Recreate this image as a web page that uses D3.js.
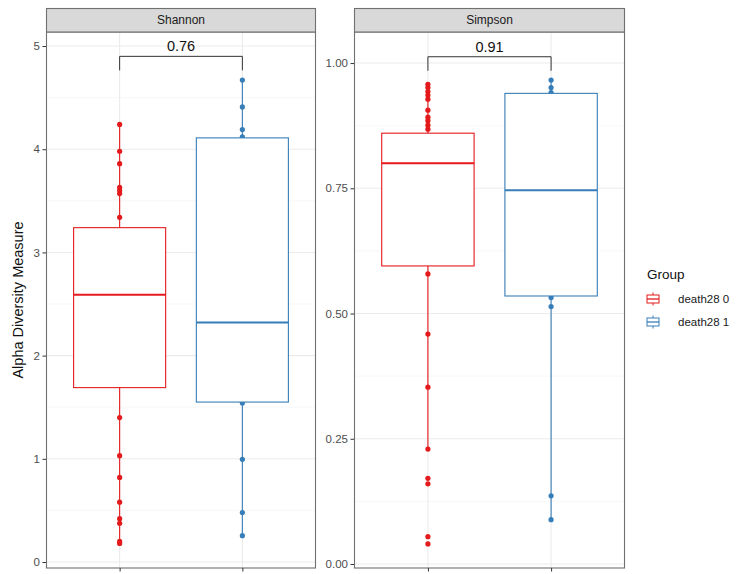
<!DOCTYPE html>
<html>
<head>
<meta charset="utf-8">
<script src="https://cdn.jsdelivr.net/npm/d3@7"></script>
<style>
  html, body { margin: 0; padding: 0; background: #ffffff; }
  svg { display: block; font-family: "Liberation Sans", Arial, sans-serif; }
</style>
</head>
<body>
<svg id="chart" width="737" height="574"></svg>
<script>
// Groups and facets
const groups = ["death28 0", "death28 1"];
const groupColors = ["#E41A1C", "#377EB8"];
const measures = ["Shannon", "Simpson"];

// Observed values per group (Shannon index)
const shannonGroup0 = [4.24, 3.98, 3.86, 3.63, 3.60, 3.57, 3.34, 1.40, 1.03, 0.82, 0.58, 0.42, 0.375, 0.20, 0.18];
const shannonGroup1 = [4.67, 4.41, 4.19, 4.12, 1.54, 0.995, 0.48, 0.255];
// Box statistics (Shannon)
const shannonQ1 = [1.69, 1.55];
const shannonMedian = [2.59, 2.32];
const shannonQ3 = [3.24, 4.11];

// Observed values per group (Simpson index)
const simpsonGroup0 = [0.9575, 0.951, 0.943, 0.936, 0.928, 0.906, 0.892, 0.885, 0.876, 0.868,
                       0.579, 0.459, 0.353, 0.2295, 0.171, 0.160, 0.0545, 0.040];
const simpsonGroup1 = [0.966, 0.951, 0.941, 0.532, 0.514, 0.136, 0.0885];
// Box statistics (Simpson)
const simpsonQ1 = [0.595, 0.535];
const simpsonMedian = [0.800, 0.746];
const simpsonQ3 = [0.860, 0.9395];

// Tick values
const shannonTicks = [0, 1, 2, 3, 4, 5];
const simpsonTicks = [0, 0.25, 0.50, 0.75, 1.00];

// Wilcoxon comparison labels and bracket heights
const pLabels = ["0.76", "0.91"];
const bracketLevels = [4.90, 1.0126];

const facets = [
  { name: measures[0], values: [shannonGroup0, shannonGroup1], q1: shannonQ1, med: shannonMedian, q3: shannonQ3,
    ticks: shannonTicks, fmt: d3.format("d"), domain: [-0.058, 5.136], x0: 46, x1: 316, p: pLabels[0], br: bracketLevels[0] },
  { name: measures[1], values: [simpsonGroup0, simpsonGroup1], q1: simpsonQ1, med: simpsonMedian, q3: simpsonQ3,
    ticks: simpsonTicks, fmt: d3.format(".2f"), domain: [-0.008, 1.062], x0: 354, x1: 625, p: pLabels[1], br: bracketLevels[1] }
];

const svg = d3.select("#chart");
const panelTop = 32, panelBottom = 568, stripTop = 8;
const borderColor = "#707070";
const gridColor = "#ebebeb";
const tickColor = "#4d4d4d";

facets.forEach(f => {
  const g = svg.append("g");
  const x = d3.scaleLinear().domain([0.4, 2.6]).range([f.x0, f.x1]);
  const y = d3.scaleLinear().domain(f.domain).range([panelBottom, panelTop]);
  const cx = i => x(i + 1);

  // panel background
  g.append("rect").attr("x", f.x0).attr("y", panelTop)
    .attr("width", f.x1 - f.x0).attr("height", panelBottom - panelTop).attr("fill", "#fff");

  // minor grid
  const step = f.ticks[1] - f.ticks[0];
  const minor = f.ticks.map(t => t + step / 2).concat([f.ticks[0] - step / 2])
    .filter(v => v > f.domain[0] && v < f.domain[1]);
  g.selectAll(".minor").data(minor).join("line")
    .attr("x1", f.x0).attr("x2", f.x1)
    .attr("y1", d => y(d)).attr("y2", d => y(d))
    .attr("stroke", "#f2f2f2").attr("stroke-width", 0.6);
  // major grid
  g.selectAll(".major").data(f.ticks).join("line")
    .attr("x1", f.x0).attr("x2", f.x1)
    .attr("y1", d => y(d)).attr("y2", d => y(d))
    .attr("stroke", gridColor).attr("stroke-width", 1.1);
  g.selectAll(".vmajor").data(groups).join("line")
    .attr("x1", (d, i) => cx(i)).attr("x2", (d, i) => cx(i))
    .attr("y1", panelTop).attr("y2", panelBottom)
    .attr("stroke", gridColor).attr("stroke-width", 1.1);

  // points (drawn beneath the boxes)
  groups.forEach((grp, i) => {
    g.append("g").selectAll("circle").data(f.values[i]).join("circle")
      .attr("cx", cx(i)).attr("cy", d => y(d)).attr("r", 2.6)
      .attr("fill", groupColors[i]);
  });

  // boxplots
  groups.forEach((grp, i) => {
    const vals = f.values[i];
    const iqr = f.q3[i] - f.q1[i];
    const hiFence = f.q3[i] + 1.5 * iqr, loFence = f.q1[i] - 1.5 * iqr;
    const hi = d3.max(vals.filter(v => v <= hiFence));
    const lo = d3.min(vals.filter(v => v >= loFence));
    const col = groupColors[i];
    const halfW = (x(1.375) - x(1));
    const bg = g.append("g");
    bg.append("line").attr("x1", cx(i)).attr("x2", cx(i))
      .attr("y1", y(f.q3[i])).attr("y2", y(hi)).attr("stroke", col).attr("stroke-width", 1.1);
    bg.append("line").attr("x1", cx(i)).attr("x2", cx(i))
      .attr("y1", y(f.q1[i])).attr("y2", y(lo)).attr("stroke", col).attr("stroke-width", 1.1);
    bg.append("rect").attr("x", cx(i) - halfW).attr("y", y(f.q3[i]))
      .attr("width", 2 * halfW).attr("height", y(f.q1[i]) - y(f.q3[i]))
      .attr("fill", "#fff").attr("stroke", col).attr("stroke-width", 1.1);
    bg.append("line").attr("x1", cx(i) - halfW).attr("x2", cx(i) + halfW)
      .attr("y1", y(f.med[i])).attr("y2", y(f.med[i]))
      .attr("stroke", col).attr("stroke-width", 2);
  });

  // comparison bracket
  const by = y(f.br);
  g.append("path")
    .attr("d", `M${cx(0)},${by + 14}V${by}H${cx(1)}V${by + 14}`)
    .attr("fill", "none").attr("stroke", "#333").attr("stroke-width", 1);
  g.append("text").attr("x", (cx(0) + cx(1)) / 2).attr("y", by - 5)
    .attr("text-anchor", "middle").attr("font-size", 14.5).attr("fill", "#111")
    .text(f.p);

  // panel border
  g.append("rect").attr("x", f.x0 + 0.5).attr("y", panelTop)
    .attr("width", f.x1 - f.x0 - 1).attr("height", panelBottom - panelTop)
    .attr("fill", "none").attr("stroke", borderColor).attr("stroke-width", 1.1);

  // strip
  g.append("rect").attr("x", f.x0 + 0.5).attr("y", stripTop + 0.5)
    .attr("width", f.x1 - f.x0 - 1).attr("height", panelTop - stripTop - 0.5)
    .attr("fill", "#d9d9d9").attr("stroke", borderColor).attr("stroke-width", 1.1);
  g.append("text").attr("x", (f.x0 + f.x1) / 2).attr("y", (stripTop + panelTop) / 2 + 4.3)
    .attr("text-anchor", "middle").attr("font-size", 12).attr("fill", "#1a1a1a")
    .text(f.name);

  // y axis
  const yAxis = d3.axisLeft(y).tickValues(f.ticks).tickFormat(f.fmt).tickSize(3.5).tickPadding(2.5);
  const ya = g.append("g").attr("transform", `translate(${f.x0},0)`).call(yAxis);
  ya.select(".domain").remove();
  ya.selectAll(".tick line").attr("stroke", "#333");
  ya.selectAll(".tick text").attr("fill", tickColor).attr("font-size", 11.5)
    .attr("font-family", "Liberation Sans, Arial, sans-serif");

  // x axis ticks (labels fall outside the canvas)
  const xAxis = d3.axisBottom(x).tickValues([1, 2]).tickFormat(() => "").tickSize(3.5);
  const xa = g.append("g").attr("transform", `translate(0,${panelBottom})`).call(xAxis);
  xa.select(".domain").remove();
  xa.selectAll(".tick line").attr("stroke", "#333");
});

// y-axis title
svg.append("text")
  .attr("transform", `translate(17.5,${(panelTop + panelBottom) / 2}) rotate(-90)`)
  .attr("dy", "0.35em").attr("text-anchor", "middle")
  .attr("font-size", 14.5).attr("fill", "#111")
  .text("Alpha Diversity Measure");

// legend
const legend = svg.append("g");
legend.append("text").attr("x", 647).attr("y", 279)
  .attr("font-size", 13.5).attr("fill", "#111").text("Group");
const keyY = d3.scalePoint().domain(groups).range([299, 322]);
groups.forEach((grp, i) => {
  const kg = legend.append("g").attr("transform", `translate(653,${keyY(grp)})`);
  const col = groupColors[i];
  kg.append("line").attr("x1", 0).attr("x2", 0).attr("y1", -6.5).attr("y2", 6.5)
    .attr("stroke", col).attr("stroke-width", 1);
  kg.append("rect").attr("x", -6).attr("y", -4).attr("width", 12).attr("height", 8)
    .attr("fill", "#fff").attr("stroke", col).attr("stroke-width", 1);
  kg.append("line").attr("x1", -6).attr("x2", 6).attr("y1", 0).attr("y2", 0)
    .attr("stroke", col).attr("stroke-width", 1.3);
  legend.append("text").attr("x", 678).attr("y", keyY(grp)).attr("dy", "0.35em")
    .attr("font-size", 11.5).attr("fill", "#1a1a1a").text(grp);
});
</script>
</body>
</html>
